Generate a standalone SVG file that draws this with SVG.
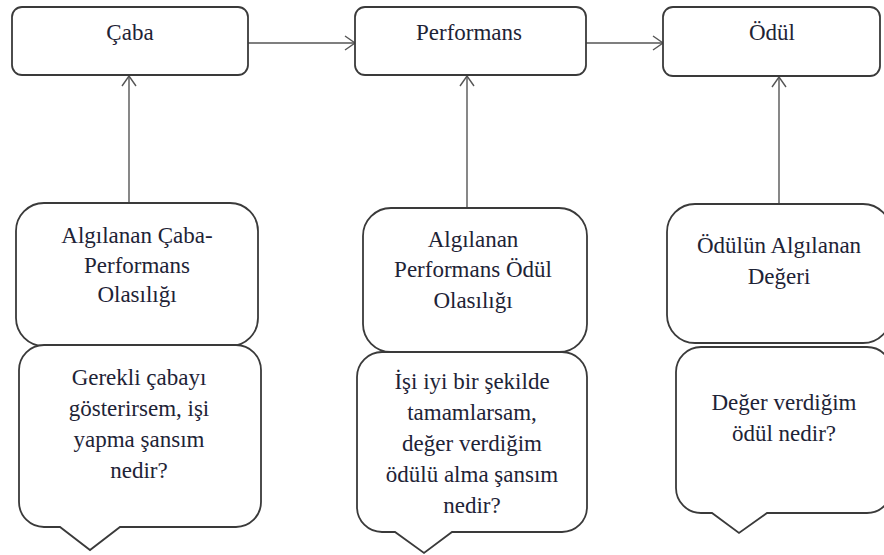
<svg xmlns="http://www.w3.org/2000/svg" width="884" height="555" viewBox="0 0 884 555">
<defs>
<style>
.box{fill:#fff;stroke:#3a3a3a;stroke-width:1.8}
.t{font-family:"Liberation Serif","Times New Roman",Times,"DejaVu Serif",serif;font-size:23px;fill:#1e2336;text-anchor:middle}
.c{stroke:#555;stroke-width:1.4;fill:none}
</style>
<marker id="ah" markerUnits="userSpaceOnUse" markerWidth="14" markerHeight="16" refX="11" refY="8" orient="auto">
<path d="M1,1 L11,8 L1,15" fill="none" stroke="#555" stroke-width="1.4"/>
</marker>
</defs>
<rect width="884" height="555" fill="#fff"/>
<g id="connectors">
<line class="c" x1="248" y1="43" x2="355" y2="43" marker-end="url(#ah)"/>
<line class="c" x1="586" y1="43" x2="663" y2="43" marker-end="url(#ah)"/>
<line class="c" x1="129" y1="203" x2="129" y2="76" marker-end="url(#ah)"/>
<line class="c" x1="467" y1="208" x2="467" y2="76" marker-end="url(#ah)"/>
<line class="c" x1="779" y1="204" x2="779" y2="77" marker-end="url(#ah)"/>
</g>
<g id="caba">
<rect class="box" x="12" y="7" width="236" height="68" rx="10"/>
<text class="t" x="130" y="40">Çaba</text>
</g>
<g id="performans">
<rect class="box" x="355" y="7" width="231" height="68" rx="10"/>
<text class="t" x="469" y="40">Performans</text>
</g>
<g id="odul">
<rect class="box" x="663" y="7" width="217" height="69" rx="10"/>
<text class="t" x="772" y="40">Ödül</text>
</g>
<g id="algilanan-caba">
<rect class="box" x="16" y="203" width="242" height="143" rx="28"/>
<text class="t" x="137" y="243">Algılanan Çaba-</text>
<text class="t" x="137" y="273">Performans</text>
<text class="t" x="137" y="302">Olasılığı</text>
</g>
<g id="algilanan-performans">
<rect class="box" x="363" y="208" width="224" height="144" rx="28"/>
<text class="t" x="473" y="247">Algılanan</text>
<text class="t" x="473" y="277">Performans Ödül</text>
<text class="t" x="473" y="308">Olasılığı</text>
</g>
<g id="odul-degeri">
<rect class="box" x="667" y="204" width="224" height="139" rx="28"/>
<text class="t" x="779" y="253">Ödülün Algılanan</text>
<text class="t" x="779" y="284">Değeri</text>
</g>
<g id="soru1">
<path class="box" d="M44,345 H236 A25,25 0 0 1 261,370 V502 A25,25 0 0 1 236,527 H120 L90,550 L60,527 H44 A25,25 0 0 1 19,502 V370 A25,25 0 0 1 44,345 Z"/>
<text class="t" x="139" y="385">Gerekli çabayı</text>
<text class="t" x="139" y="416">gösterirsem, işi</text>
<text class="t" x="139" y="447">yapma şansım</text>
<text class="t" x="139" y="478">nedir?</text>
</g>
<g id="soru2">
<path class="box" d="M382,352 H562 A25,25 0 0 1 587,377 V507 A25,25 0 0 1 562,532 H452 L424,553 L395,532 H382 A25,25 0 0 1 357,507 V377 A25,25 0 0 1 382,352 Z"/>
<text class="t" x="472" y="389">İşi iyi bir şekilde</text>
<text class="t" x="472" y="420">tamamlarsam,</text>
<text class="t" x="472" y="451">değer verdiğim</text>
<text class="t" x="472" y="482">ödülü alma şansım</text>
<text class="t" x="472" y="513">nedir?</text>
</g>
<g id="soru3">
<path class="box" d="M701,347 H867 A25,25 0 0 1 892,372 V488 A25,25 0 0 1 867,513 H767 L739,533 L712,513 H701 A25,25 0 0 1 676,488 V372 A25,25 0 0 1 701,347 Z"/>
<text class="t" x="784" y="410">Değer verdiğim</text>
<text class="t" x="784" y="441">ödül nedir?</text>
</g>
</svg>
